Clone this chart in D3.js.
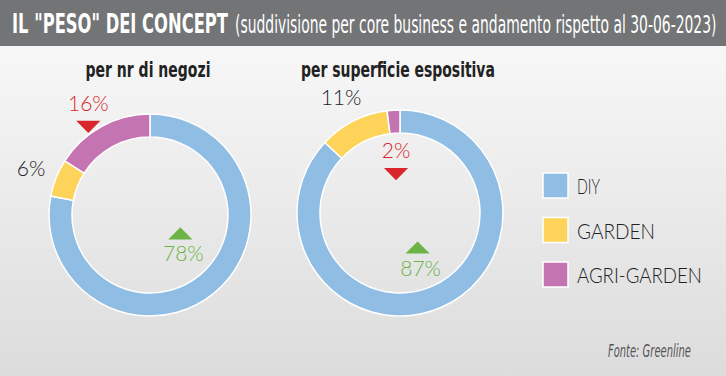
<!DOCTYPE html>
<html>
<head>
<meta charset="utf-8">
<script src="https://cdn.jsdelivr.net/npm/d3@7"></script>
<style>
  body { margin: 0; padding: 0; }
  svg { display: block; }
</style>
</head>
<body>
<div id="chart"></div>
<script>
const width = 726, height = 376;

// data
const categories = ["DIY", "GARDEN", "AGRI-GARDEN"];
const colors = ["#8fbde3", "#fdd35a", "#c474b0"];
const storesShare = [78, 6, 16];
const surfaceShare = [87, 11, 2];
// trend vs 30-06-2023: "up", "down" or null
const storesTrend = ["up", null, "down"];
const surfaceTrend = ["up", null, "down"];
const chartTitles = ["per nr di negozi", "per superficie espositiva"];

const condensed = "'DejaVu Sans Condensed', 'Liberation Sans Narrow', sans-serif";

const svg = d3.select("#chart").append("svg")
    .attr("width", width)
    .attr("height", height);

// squeeze a text horizontally to a target width, anchored at its left x
function fit(sel, x, y, w) {
    sel.attr("x", 0).attr("y", 0);
    const nat = sel.node().getComputedTextLength();
    sel.attr("transform", `translate(${x},${y}) scale(${w / nat},1)`);
    return sel;
}

const defs = svg.append("defs");
const grad = defs.append("linearGradient")
    .attr("id", "bg").attr("x1", 0).attr("x2", 0).attr("y1", 0).attr("y2", 1);
grad.append("stop").attr("offset", "0%").attr("stop-color", "#fbfbfb");
grad.append("stop").attr("offset", "100%").attr("stop-color", "#dcdcdd");

svg.append("rect").attr("width", width).attr("height", height).attr("fill", "url(#bg)");

// header
svg.append("rect").attr("width", width).attr("height", 46).attr("fill", "#737476");
fit(svg.append("text")
    .attr("fill", "#fff")
    .attr("font-weight", "bold").attr("font-size", 27)
    .style("font-family", condensed)
    .text('IL "PESO" DEI CONCEPT'), 12, 33, 216);
fit(svg.append("text")
    .attr("fill", "#fff")
    .attr("font-size", 25)
    .style("font-family", condensed)
    .text("(suddivisione per core business e andamento rispetto al 30-06-2023)"), 235, 33, 482);

const pie = d3.pie().sort(null).value(d => d);
const red = "#d9262c", green = "#6bb445";
const numFont = "'Lato', 'Open Sans', sans-serif";

const charts = [
    { values: storesShare, trend: storesTrend, title: chartTitles[0], titleW: 125,
      cx: 150, cy: 215, r: 101, inside: [true, false, false], main: [0.33, 0.38] },
    { values: surfaceShare, trend: surfaceTrend, title: chartTitles[1], titleW: 194,
      cx: 400, cy: 213, r: 103, inside: [true, false, true], main: [0.2, 0.53] }
];

const tri = d3.symbol().type(d3.symbolTriangle).size(150);

charts.forEach((c, ci) => {
    const g = svg.append("g").attr("transform", `translate(${c.cx},${c.cy})`);
    const arc = d3.arc().innerRadius(c.r - 23).outerRadius(c.r);
    const arcs = pie(c.values);

    g.selectAll("path.slice")
        .data(arcs)
        .enter()
        .append("path")
        .attr("class", "slice")
        .attr("d", arc)
        .attr("fill", (d, i) => colors[i])
        .attr("stroke", "#fff")
        .attr("stroke-width", 1.5);

    fit(svg.append("text")
        .attr("font-weight", "bold")
        .attr("font-size", 21)
        .attr("fill", "#222")
        .style("font-family", condensed)
        .text(c.title), c.cx - 2 - c.titleW / 2, 77, c.titleW);

    arcs.forEach((d, i) => {
        const mid = (d.startAngle + d.endAngle) / 2;
        const trend = c.trend[i];
        const col = trend === "up" ? green : trend === "down" ? red : "#222";
        let x, y;
        if (i === 0) {
            // main slice: label inside the ring, lower right of centre
            x = c.r * c.main[0];
            y = c.r * c.main[1];
        } else if (c.inside[i]) {
            x = 63 * Math.sin(mid);
            y = -63 * Math.cos(mid);
        } else {
            const lr = c.r + 27;
            x = lr * Math.sin(mid);
            y = -lr * Math.cos(mid);
        }
        g.append("text")
            .attr("x", x).attr("y", y + 8)
            .attr("text-anchor", "middle")
            .attr("font-size", 21)
            .attr("font-weight", 300)
            .attr("fill", col)
            .style("font-family", numFont)
            .text(c.values[i] + "%");
        if (trend === "up") {
            g.append("path").attr("d", tri)
                .attr("transform", `translate(${x - 3},${y - 18}) scale(1.3,0.75)`)
                .attr("fill", green);
        } else if (trend === "down") {
            g.append("path").attr("d", tri)
                .attr("transform", `translate(${x},${y + 22}) rotate(180) scale(1.3,0.75)`)
                .attr("fill", red);
        }
    });
});

// legend
const legendW = [23, 78, 125];
const legend = svg.append("g").attr("transform", "translate(543,173)");
categories.forEach((name, i) => {
    const item = legend.append("g").attr("transform", `translate(0,${i * 44.5})`);
    item.append("rect")
        .attr("width", 25).attr("height", 25)
        .attr("fill", colors[i])
        .attr("stroke", "#fff").attr("stroke-width", 1.5);
    fit(item.append("text")
        .attr("font-size", 22)
        .attr("font-weight", 300)
        .attr("fill", "#222")
        .style("font-family", "'Lato', sans-serif")
        .text(name), 34, 21, legendW[i]);
});

// source
fit(svg.append("text")
    .attr("font-size", 18)
    .attr("font-style", "italic")
    .attr("fill", "#555")
    .style("font-family", condensed)
    .text("Fonte: Greenline"), 608, 357, 83);
</script>
</body>
</html>
